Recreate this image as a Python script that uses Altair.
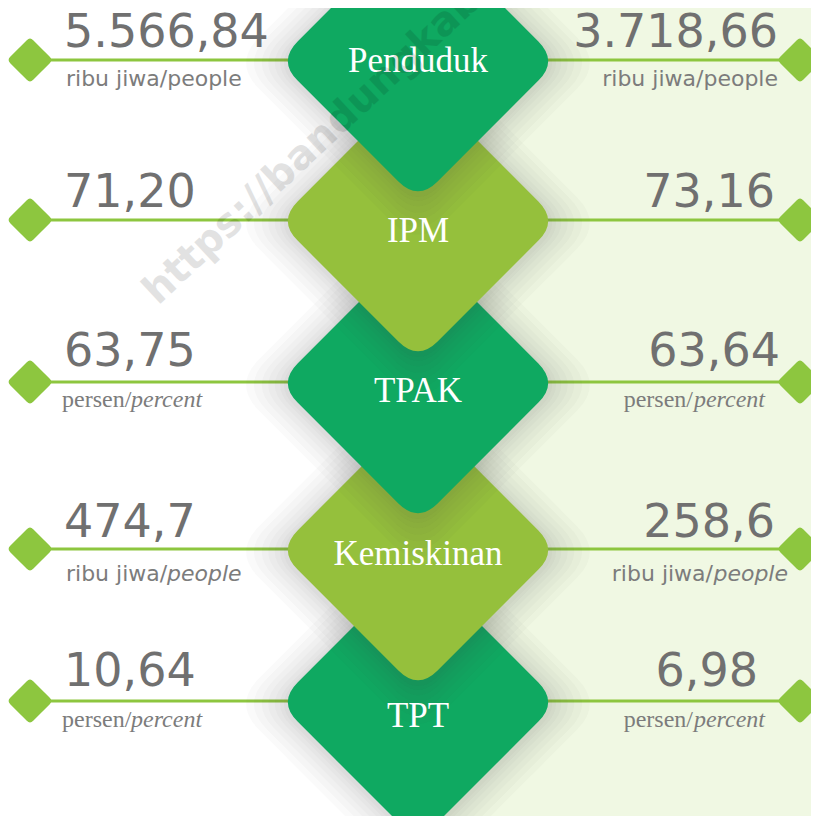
import altair as alt
import pandas as pd

# ---------------- data ----------------
indicators = ["Penduduk", "IPM", "TPAK", "Kemiskinan", "TPT"]
left_values = ["5.566,84", "71,20", "63,75", "474,7", "10,64"]
right_values = ["3.718,66", "73,16", "63,64", "258,6", "6,98"]
unit_plain = ["ribu jiwa/people", "", "persen/", "ribu jiwa/", "persen/"]
unit_italic = ["", "", "percent", "people", "percent"]
unit_kind = ["sans", "none", "serif", "sans", "serif"]
watermark = "https://bandungkab.bps.go.id"

# ---------------- layout / style ----------------
W, H = 803, 808
X0, X1 = 8, 811
Y0, Y1 = 8, 816
row_y = [60, 220, 382, 549, 701]
label_dy = [12, 22, 20, 16, 26]
num_dy = [-13, -13, -16, -12, -15]
unit_dy = [26, 0, 25, 32, 26]
left_num_x = 64
right_num_x = [778, 775, 780, 775, 758]
cx = 418
end_left, end_right = 30, 800
dark_green, light_green = "#0fa961", "#95c03c"
diamond_colors = [dark_green, light_green, dark_green, light_green, dark_green]
line_green = "#8dc63f"
gray_num = "#707070"
gray_unit = "#7c7c7c"
bg_right = "#f0f8e3"

# rounded diamond symbol, unit box [-1, 1]
t = 0.14
u = 1 - t
DIAMOND = (f"M {-t},{-u} Q 0,-1 {t},{-u} L {u},{-t} Q 1,0 {u},{t} "
           f"L {t},{u} Q 0,1 {-t},{u} L {-u},{t} Q -1,0 {-u},{-t} Z")

xs = alt.Scale(domain=[X0, X1], nice=False, zero=False)
ys = alt.Scale(domain=[Y0, Y1], nice=False, zero=False, reverse=True)


def X(f):
    return alt.X(f"{f}:Q", scale=xs, axis=None)


def Y(f):
    return alt.Y(f"{f}:Q", scale=ys, axis=None)


def text_layer(rows, **kw):
    df = pd.DataFrame(rows, columns=["x", "y", "t"])
    return alt.Chart(df).mark_text(**kw).encode(x=X("x"), y=Y("y"), text="t:N")


# background
bg = alt.Chart(pd.DataFrame([{"x": cx, "x2": X1, "y": Y0, "y2": Y1}])).mark_rect(
    color=bg_right
).encode(x=X("x"), x2="x2:Q", y=Y("y"), y2="y2:Q")

# connector lines
seg = []
for i, yv in enumerate(row_y):
    seg.append({"x": end_left, "x2": cx, "y": yv})
    seg.append({"x": cx, "x2": end_right, "y": yv})
lines = alt.Chart(pd.DataFrame(seg)).mark_rule(color=line_green, strokeWidth=3).encode(
    x=X("x"), x2="x2:Q", y=Y("y")
)

# small end diamonds
ends = []
for yv in row_y:
    ends.append({"x": end_left, "y": yv})
    ends.append({"x": end_right, "y": yv})
small = alt.Chart(pd.DataFrame(ends)).mark_point(
    shape=DIAMOND, filled=True, size=46 * 46, color=line_green, opacity=1, strokeWidth=0
).encode(x=X("x"), y=Y("y"))

# big diamonds with soft shadows (upper rows drawn on top)
S = 280
big_rows = []
z = 0
for i in reversed(range(len(indicators))):
    for f in [1.32, 1.26, 1.20, 1.15, 1.10, 1.06, 1.03]:
        big_rows.append({"x": cx, "y": row_y[i] + 3, "size": (S * f) ** 2,
                         "color": "#3a3a3a", "op": 0.028, "z": z})
        z += 1
    big_rows.append({"x": cx, "y": row_y[i] + 1, "size": S ** 2,
                     "color": diamond_colors[i], "op": 1.0, "z": z})
    z += 1
big = alt.Chart(pd.DataFrame(big_rows)).mark_point(
    shape=DIAMOND, filled=True, strokeWidth=0
).encode(
    x=X("x"), y=Y("y"),
    size=alt.Size("size:Q", scale=None, legend=None),
    color=alt.Color("color:N", scale=None, legend=None),
    opacity=alt.Opacity("op:Q", scale=None, legend=None),
    order=alt.Order("z:Q"),
)

# center labels
labels = text_layer(
    [(cx, row_y[i] + label_dy[i], indicators[i]) for i in range(len(indicators))],
    font="Liberation Serif", fontSize=35, color="white", align="center", baseline="alphabetic",
)

# numbers
nums_left = text_layer(
    [(left_num_x, row_y[i] + num_dy[i], left_values[i]) for i in range(5)],
    font="DejaVu Sans", fontSize=46, color=gray_num, align="left", baseline="alphabetic",
)
nums_right = text_layer(
    [(right_num_x[i], row_y[i] + num_dy[i], right_values[i]) for i in range(5)],
    font="DejaVu Sans", fontSize=46, color=gray_num, align="right", baseline="alphabetic",
)

# units
sans_w = {"ribu jiwa/": 101, "people": 75}
serif_w = {"persen/": 69, "percent": 72}
sans_l, sans_r, sans_li, sans_ri = [], [], [], []
serif_l, serif_r, serif_li, serif_ri = [], [], [], []
for i in range(5):
    yv = row_y[i] + unit_dy[i]
    if unit_kind[i] == "sans":
        lx, rx = 66, (778 if unit_italic[i] == "" else 788)
        sans_l.append((lx, yv, unit_plain[i]))
        if unit_italic[i]:
            sans_li.append((lx + sans_w[unit_plain[i]], yv, unit_italic[i]))
            sans_ri.append((rx, yv, unit_italic[i]))
            sans_r.append((rx - sans_w[unit_italic[i]], yv, unit_plain[i]))
        else:
            sans_r.append((rx, yv, unit_plain[i]))
    elif unit_kind[i] == "serif":
        lx, rx = 62, 765
        serif_l.append((lx, yv, unit_plain[i]))
        serif_li.append((lx + serif_w[unit_plain[i]], yv, unit_italic[i]))
        serif_ri.append((rx, yv, unit_italic[i]))
        serif_r.append((rx - serif_w[unit_italic[i]], yv, unit_plain[i]))

sans_kw = dict(font="DejaVu Sans", fontSize=22, color=gray_unit, baseline="alphabetic")
serif_kw = dict(font="Liberation Serif", fontSize=24, color=gray_unit, baseline="alphabetic")
units = [
    text_layer(sans_l, align="left", **sans_kw),
    text_layer(sans_li, align="left", fontStyle="italic", **sans_kw),
    text_layer(sans_r, align="right", **sans_kw),
    text_layer(sans_ri, align="right", fontStyle="italic", **sans_kw),
    text_layer(serif_l, align="left", **serif_kw),
    text_layer(serif_li, align="left", fontStyle="italic", **serif_kw),
    text_layer(serif_r, align="right", **serif_kw),
    text_layer(serif_ri, align="right", fontStyle="italic", **serif_kw),
]

wm = text_layer(
    [(158, 306, watermark)],
    font="DejaVu Sans", fontWeight="bold", fontSize=40, color="#000000", opacity=0.11,
    align="left", baseline="alphabetic", angle=317,
)

chart = alt.layer(
    bg, lines, small, nums_left, nums_right, *units, big, labels, wm
).properties(
    width=W, height=H, padding=0, background="white",
    autosize=alt.AutoSizeParams(type="none"),
).configure_view(stroke=None)

chart.save("out.html", embed_options={"renderer": "svg", "actions": False})
